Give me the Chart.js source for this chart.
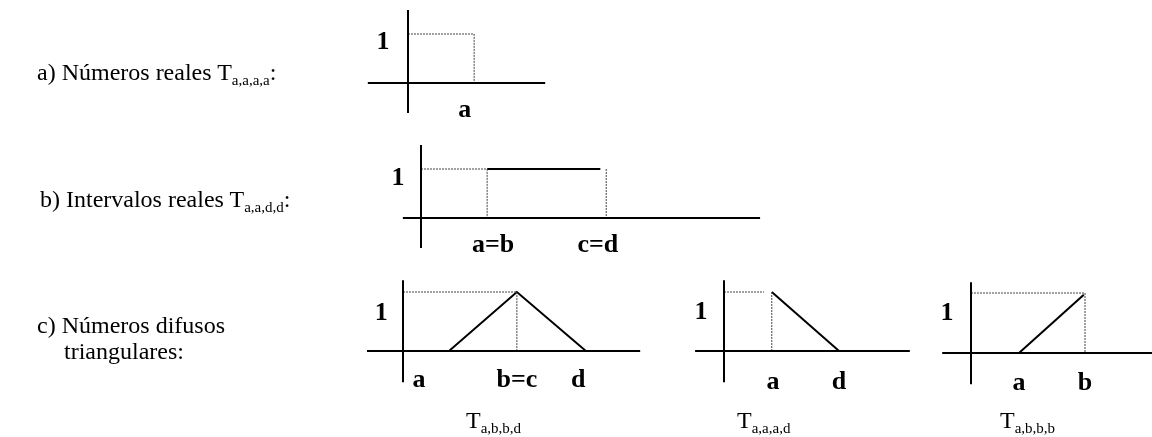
<!DOCTYPE html>
<html>
<head>
<meta charset="utf-8">
<script src="https://cdn.jsdelivr.net/npm/chart.js@4.4.1/dist/chart.umd.min.js"></script>
<style>
  body { margin: 0; background: #fff; }
  #page { position: relative; width: 1152px; height: 437px; overflow: hidden; }
  #page canvas { position: absolute; left: 0; top: 0; }
  .txt { position: absolute; font-family: "Liberation Serif", "Times New Roman", serif; font-size: 24px; line-height: 24px; color: #000; white-space: nowrap; }
  .txt sub { font-size: 15px; vertical-align: -5px; line-height: 0; }
</style>
</head>
<body>
<div id="page">
  <canvas id="realChart" width="1152" height="437"></canvas>
  <canvas id="intervalChart" width="1152" height="437"></canvas>
  <canvas id="triFullChart" width="1152" height="437"></canvas>
  <canvas id="triLeftChart" width="1152" height="437"></canvas>
  <canvas id="triRightChart" width="1152" height="437"></canvas>

  <div class="txt" style="left:37px; top:60px;">a) Números reales T<sub>a,a,a,a</sub>:</div>
  <div class="txt" style="left:40px; top:187px;">b) Intervalos reales T<sub>a,a,d,d</sub>:</div>
  <div class="txt" style="left:37px; top:313px;">c) Números difusos</div>
  <div class="txt" style="left:64px; top:339px;">triangulares:</div>
  <div class="txt" style="left:466px; top:408px;">T<sub>a,b,b,d</sub></div>
  <div class="txt" style="left:737px; top:408px;">T<sub>a,a,a,d</sub></div>
  <div class="txt" style="left:1000px; top:408px;">T<sub>a,b,b,b</sub></div>
</div>

<script>
const W = 1152;
const H = 437;

// a) real number T(a,a,a,a)
const realAxisX = [-0.82, 2.80];
const realAxisY = [-0.61, 1.49];
const realGuideX = [0, 1.35, 1.35];
const realGuideY = [1, 1, 0];
const realLabels = ["1", "a"];
const realLabelX = [-0.51, 1.16];
const realLabelY = [0.84, -0.55];

// b) real interval T(a,a,d,d)
const intAxisX = [-0.37, 6.92];
const intAxisY = [-0.61, 1.49];
const intGuideX = [0, 1.35, 1.35];
const intGuideY = [1, 1, 0];
const intGuide2X = [3.78, 3.78];
const intGuide2Y = [1, 0];
const intTopX = [1.35, 3.66];
const intTopY = [1, 1];
const intLabels = ["1", "a=b", "c=d"];
const intLabelX = [-0.47, 1.47, 3.61];
const intLabelY = [0.82, -0.55, -0.55];

// c) triangular T(a,b,b,d)
const triAxisX = [-0.61, 4.02];
const triAxisY = [-0.53, 1.20];
const triGuideX = [0, 1.93, 1.93];
const triGuideY = [1, 1, 0];
const triLineX = [0.78, 1.93, 3.10];
const triLineY = [0, 1, 0];
const triLabels = ["1", "a", "b=c", "d"];
const triLabelX = [-0.37, 0.27, 1.93, 2.97];
const triLabelY = [0.64, -0.49, -0.49, -0.49];

// c) T(a,a,a,d)
const leftAxisX = [-0.49, 3.15];
const leftAxisY = [-0.53, 1.20];
const leftGuideX = [0, 0.68];
const leftGuideY = [1, 1];
const leftGuide2X = [0.81, 0.81];
const leftGuide2Y = [1, 0];
const leftLineX = [0.81, 1.95];
const leftLineY = [1, 0];
const leftLabels = ["1", "a", "d"];
const leftLabelX = [-0.39, 0.83, 1.95];
const leftLabelY = [0.66, -0.53, -0.53];

// c) T(a,b,b,b)
const rightAxisX = [-0.48, 3.02];
const rightAxisY = [-0.52, 1.18];
const rightGuideX = [0, 1.90, 1.90];
const rightGuideY = [1, 1, 0];
const rightLineX = [0.80, 1.88];
const rightLineY = [0, 0.97];
const rightLabels = ["1", "a", "b"];
const rightLabelX = [-0.40, 0.80, 1.90];
const rightLabelY = [0.67, -0.50, -0.50];

function pts(xs, ys) {
  return xs.map((x, i) => ({ x: x, y: ys[i] }));
}

function solid(xs, ys) {
  return { data: pts(xs, ys), borderColor: "#000", borderWidth: 2, pointRadius: 0, tension: 0, fill: false };
}

function dotted(xs, ys) {
  return { data: pts(xs, ys), borderColor: "#444", borderWidth: 1, borderDash: [2, 1], pointRadius: 0, tension: 0, fill: false };
}

// horizontal + vertical axis lines through the origin
function axes(axX, axY) {
  return [solid(axX, [0, 0]), solid([0, 0], axY)];
}

// draws the bold "1", "a", ... labels at their data positions
function labelPlugin(texts, xs, ys) {
  return {
    id: "labels",
    afterDatasetsDraw(chart) {
      const ctx = chart.ctx;
      ctx.save();
      ctx.font = 'bold 26px "Liberation Serif", serif';
      ctx.fillStyle = "#000";
      ctx.textAlign = "center";
      ctx.textBaseline = "middle";
      texts.forEach((t, i) => {
        ctx.fillText(t, chart.scales.x.getPixelForValue(xs[i]), chart.scales.y.getPixelForValue(ys[i]));
      });
      ctx.restore();
    },
  };
}

function makeDiagram(id, origin, unit, datasets, plugin) {
  const canvas = document.getElementById(id);
  new Chart(canvas, {
    type: "line",
    data: { datasets: datasets },
    options: {
      responsive: false,
      animation: false,
      events: [],
      layout: { padding: 0 },
      plugins: { legend: { display: false }, tooltip: { enabled: false } },
      scales: {
        x: { type: "linear", display: false, min: -origin.x / unit, max: (W - origin.x) / unit },
        y: { type: "linear", display: false, min: -(H - origin.y) / unit, max: origin.y / unit },
      },
    },
    plugins: [plugin],
  });
}

makeDiagram("realChart", { x: 408, y: 83 }, 49,
  [...axes(realAxisX, realAxisY), dotted(realGuideX, realGuideY)],
  labelPlugin(realLabels, realLabelX, realLabelY));

makeDiagram("intervalChart", { x: 421, y: 218 }, 49,
  [...axes(intAxisX, intAxisY), dotted(intGuideX, intGuideY), dotted(intGuide2X, intGuide2Y), solid(intTopX, intTopY)],
  labelPlugin(intLabels, intLabelX, intLabelY));

makeDiagram("triFullChart", { x: 403, y: 351 }, 59,
  [...axes(triAxisX, triAxisY), dotted(triGuideX, triGuideY), solid(triLineX, triLineY)],
  labelPlugin(triLabels, triLabelX, triLabelY));

makeDiagram("triLeftChart", { x: 724, y: 351 }, 59,
  [...axes(leftAxisX, leftAxisY), dotted(leftGuideX, leftGuideY), dotted(leftGuide2X, leftGuide2Y), solid(leftLineX, leftLineY)],
  labelPlugin(leftLabels, leftLabelX, leftLabelY));

makeDiagram("triRightChart", { x: 971, y: 353 }, 60,
  [...axes(rightAxisX, rightAxisY), dotted(rightGuideX, rightGuideY), solid(rightLineX, rightLineY)],
  labelPlugin(rightLabels, rightLabelX, rightLabelY));
</script>
</body>
</html>
